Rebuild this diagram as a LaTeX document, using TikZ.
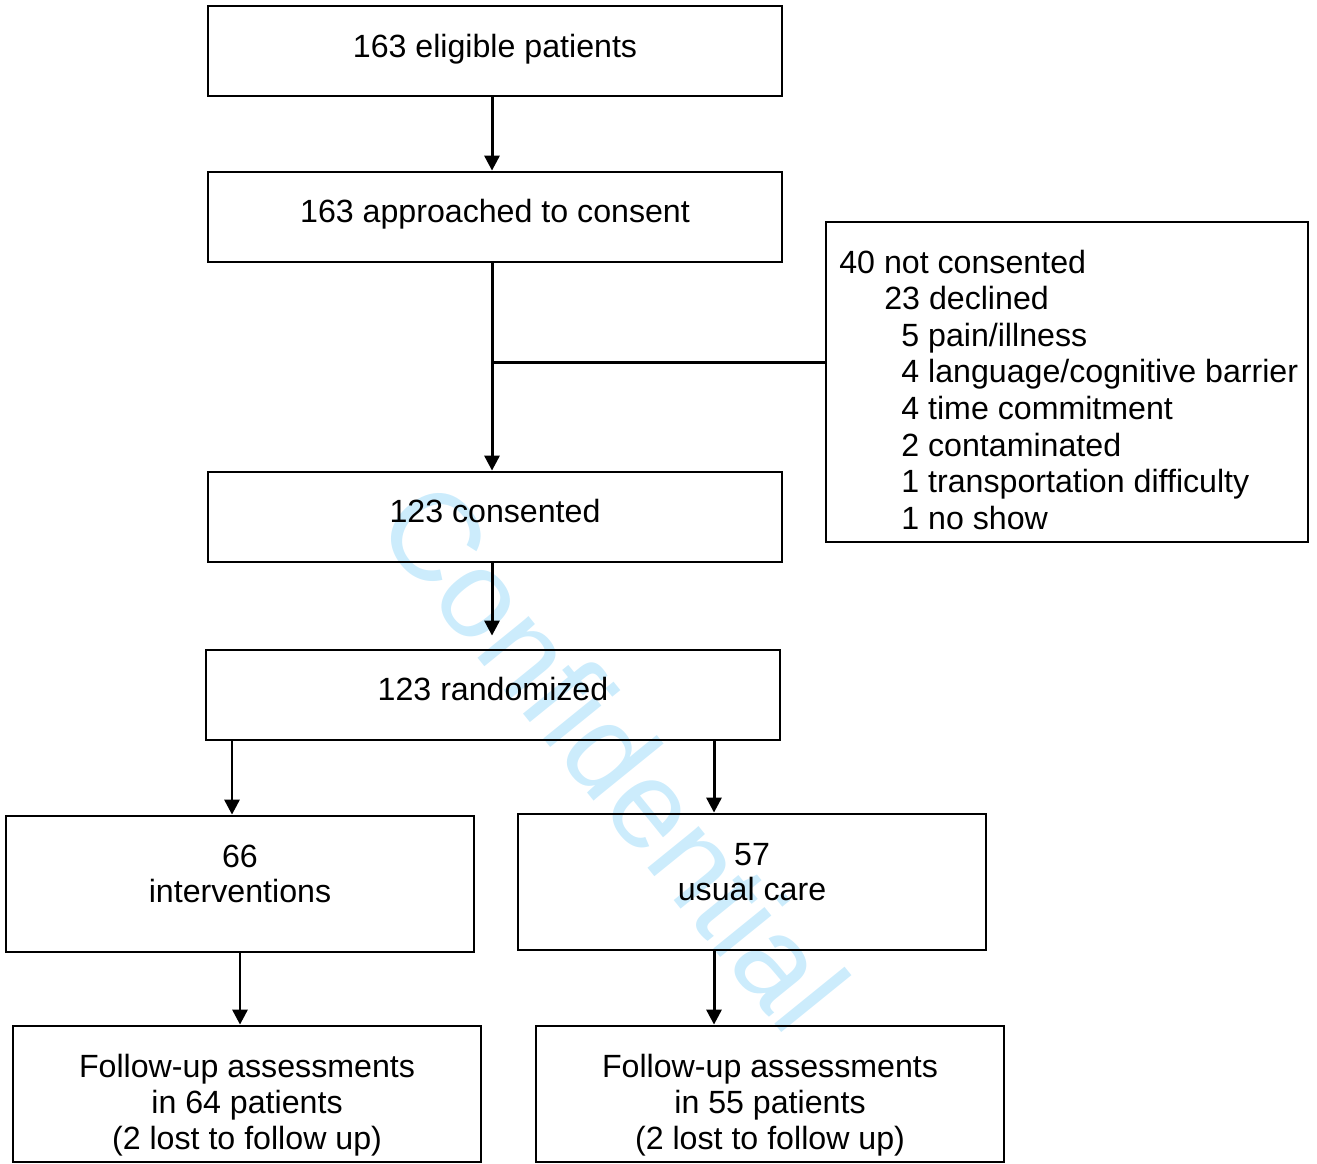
\documentclass[tikz,border=0pt]{standalone}
\usepackage{fontspec}
\setmainfont{Liberation Sans}
\usetikzlibrary{arrows.meta,fit}
\definecolor{wmcol}{RGB}{204,236,252}
\begin{document}
\begin{tikzpicture}[x=0.02cm,y=-0.02cm,
  box/.style={draw, line width=1.6pt, inner sep=0pt},
  txt/.style={inner sep=0pt, anchor=base, font=\fontsize{18.3}{21}\selectfont},
  ltxt/.style={inner sep=0pt, anchor=base west, font=\fontsize{18.3}{21}\selectfont},
  arr/.style={line width=1.7pt, -{Triangle[length=0.3cm,width=0.3cm]}},
  ln/.style={line width=1.7pt},
  wmk/.style={inner sep=0pt, anchor=base west, rotate=-51, text=wmcol, font=\fontsize{71}{80}\selectfont}]
\useasboundingbox (0,0) rectangle (1317,1163);

% watermark
\node[wmk] (wm) at (372,527) {Confidential};

% boxes
\node[box, fit={(208,6) (782,96)}] (b1) {};
\node[box, fit={(208,172) (782,262)}] (b2) {};
\node[box, fit={(826,222) (1308,542)}] (b3) {};
\node[box, fit={(208,472) (782,562)}] (b4) {};
\node[box, fit={(206,650) (780,740)}] (b5) {};
\node[box, fit={(6,816) (474,952)}] (b6) {};
\node[box, fit={(518,814) (986,950)}] (b7) {};
\node[box, fit={(13,1026) (481,1162)}] (b8) {};
\node[box, fit={(536,1026) (1004,1162)}] (b9) {};

% texts
\node[txt] (t1) at (495,57) {163 eligible patients};
\node[txt] (t2) at (495,222) {163 approached to consent};
\node[txt] (t4) at (495,522) {123 consented};
\node[txt] (t5) at (493,700) {123 randomized};
\node[txt] (t6a) at (240,867) {66};
\node[txt] (t6b) at (240,902) {interventions};
\node[txt] (t7a) at (752,865) {57};
\node[txt] (t7b) at (752,900) {usual care};
\node[txt] (t8a) at (247,1077) {Follow-up assessments};
\node[txt] (t8b) at (247,1113) {in 64 patients};
\node[txt] (t8c) at (247,1149) {(2 lost to follow up)};
\node[txt] (t9a) at (770,1077) {Follow-up assessments};
\node[txt] (t9b) at (770,1113) {in 55 patients};
\node[txt] (t9c) at (770,1149) {(2 lost to follow up)};

% side box list
\node[ltxt] (s1) at (839,273) {40 not consented};
\node[ltxt] (s2) at (884,309.6) {23 declined};
\node[ltxt] (s3) at (901,346.2) {5 pain/illness};
\node[ltxt] (s4) at (901,382.8) {4 language/cognitive barrier};
\node[ltxt] (s5) at (901,419.4) {4 time commitment};
\node[ltxt] (s6) at (901,456) {2 contaminated};
\node[ltxt] (s7) at (901,492.6) {1 transportation difficulty};
\node[ltxt] (s8) at (901,529.2) {1 no show};

% helper coordinates
\coordinate (cx) at (492,0);
\coordinate (cy) at (0,362);
\coordinate (cl) at (232,0);
\coordinate (cr) at (714,0);

% connectors
\draw[arr] (b1.south -| cx) -- (b2.north -| cx);
\draw[arr] (b2.south -| cx) -- (b4.north -| cx);
\draw[ln] (cx |- cy) -- (b3.west |- cy);
\draw[arr, shorten >=0.26cm] (b4.south -| cx) -- (b5.north -| cx);
\draw[arr] (b5.south -| cl) -- (b6.north -| cl);
\draw[arr] (b5.south -| cr) -- (b7.north -| cr);
\draw[arr] (b6.south) -- (b8.north -| b6.south);
\draw[arr] (b7.south -| cr) -- (b9.north -| cr);
\end{tikzpicture}
\end{document}
